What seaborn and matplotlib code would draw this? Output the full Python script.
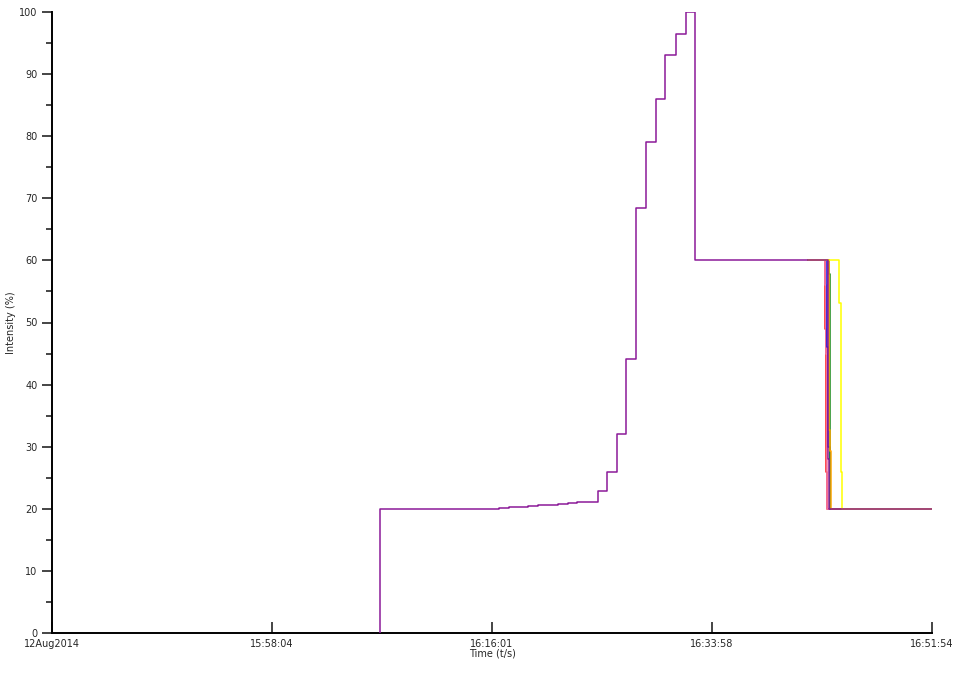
import numpy as np
import pandas as pd
import matplotlib
matplotlib.use("Agg")
import matplotlib.pyplot as plt
import seaborn as sns

sns.set_style("ticks")
plt.rcParams['font.family'] = ['DejaVu Sans']

# time in seconds after 15:40:07 (12 Aug 2014)
tick_secs = [0, 1077, 2154, 3231, 4308]
tick_labels = ["12Aug2014", "15:58:04", "16:16:01", "16:33:58", "16:51:54"]

# main run (purple), starts at 0 % when recording begins
purple_t = [1606, 1606, 2188, 2237, 2330, 2379, 2477, 2526, 2570, 2673, 2717, 2766,
            2810, 2859, 2908, 2957, 3001, 3055, 3104, 3148, 3798, 3803, 4308]
purple_v = [0, 20, 20.2, 20.35, 20.5, 20.6, 20.8, 21.0, 21.1, 22.9, 25.9, 32.1,
            44.1, 68.4, 79.0, 86.0, 93.0, 96.5, 100, 60, 28, 20, 20]

# other runs, only visible around the drop at the end
red_t = [3700, 3782, 3784, 3787, 3790, 3793, 4308]
red_v = [60, 54.6, 49, 36, 26, 20, 20]
pink_t = [3700, 3786, 3790, 3796, 4308]
pink_v = [60, 56, 45, 20, 20]
blue_t = [3700, 3792, 3796, 3801, 3807, 4308]
blue_v = [60, 57, 46, 30, 20, 20]
green_t = [3700, 3803, 3810, 4308]
green_v = [60, 57.8, 20, 20]
orange_t = [3700, 3804, 3808, 3812, 4308]
orange_v = [60, 32.7, 29.3, 20, 20]
yellow_t = [3700, 3852, 3862, 3869, 4308]
yellow_v = [60, 53.1, 26, 20, 20]

runs = [("red", red_t, red_v), ("pink", pink_t, pink_v),
        ("blue", blue_t, blue_v), ("green", green_t, green_v),
        ("orange", orange_t, orange_v), ("yellow", yellow_t, yellow_v),
        ("purple", purple_t, purple_v)]

palette = {"red": "#ff1a1a", "pink": "#f07aa8", "blue": "#1010e0", "green": "#1a8a1a",
           "orange": "#ffa500", "yellow": "#ffff00", "purple": "#8b1a98"}

fig = plt.figure(figsize=(9.56, 6.76), dpi=100)
ax = fig.add_axes([52/956, 1-633/676, (932-52)/956, (633-12)/676])

# one call per run so purple ends up on top
for i, (name, t, v) in enumerate(runs):
    d = pd.DataFrame({"Time": t, "Intensity": v})
    sns.lineplot(data=d, x="Time", y="Intensity", color=palette[name],
                 estimator=None, sort=False, drawstyle="steps-post", lw=1.1,
                 zorder=2 + i, ax=ax)

ax.set_xlim(0, 4308)
ax.set_ylim(0, 100)
ax.set_xticks(tick_secs)
ax.set_xticklabels(tick_labels)
ax.set_yticks(np.arange(0, 101, 10))
ax.set_yticks(np.arange(5, 100, 10), minor=True)
ax.tick_params(axis="x", direction="in", length=8, width=1.2, labelsize=7, pad=4)
ax.tick_params(axis="y", which="major", direction="out", length=7, width=1.2, labelsize=7)
ax.tick_params(axis="y", which="minor", direction="out", length=4, width=1.2)
ax.set_xlabel("Time (t/s)", fontsize=7, labelpad=0)
ax.set_ylabel("Intensity (%)", fontsize=7, labelpad=2)
sns.despine(ax=ax)
for s in ["left", "bottom"]:
    ax.spines[s].set_linewidth(1.4)
    ax.spines[s].set_color("black")

fig.savefig("out.png", dpi=100)
